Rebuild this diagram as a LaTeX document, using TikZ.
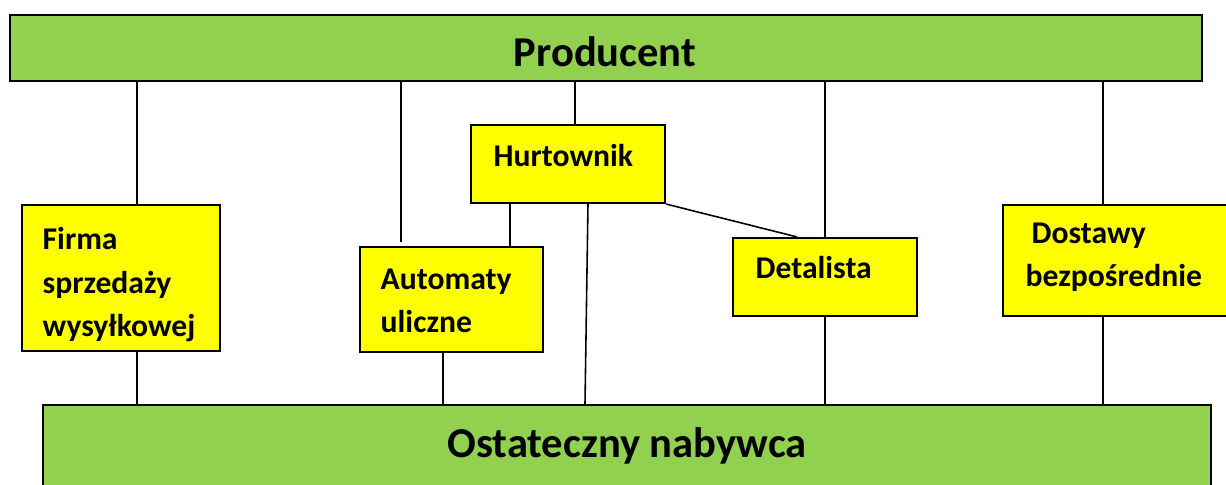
\documentclass[tikz,border=0pt]{standalone}
\usepackage{fontspec}
\setmainfont{Carlito}
\usetikzlibrary{positioning}
\definecolor{grn}{HTML}{92D050}
\definecolor{ylw}{HTML}{FFFF00}

\begin{document}
\begin{tikzpicture}[x=0.01cm, y=-0.01cm,
  box/.style={rectangle, draw, line width=0.6pt, fill=#1, inner sep=0pt},
  box/.default=ylw,
  lbl/.style={anchor=base west, inner sep=0pt, align=left, font=\fontsize{9}{12.5}\selectfont\bfseries},
  big/.style={anchor=base, inner sep=0pt, font=\fontsize{12.1}{14}\selectfont\bfseries},
  conn/.style={line width=0.45pt}]
  \clip (0,0) rectangle (1226,485);
  % levels
  \node[box=grn, minimum width=11.92cm, minimum height=0.66cm] (prod) at (606,48) {};
  \node[box=grn, minimum width=11.68cm, minimum height=1.0cm] (ost) at (627,455) {};
  \node[big] (tprod) at (605,67) {Producent};
  \node[big] (tost) at (627,458) {Ostateczny nabywca};
  % channels
  \node[box, minimum width=1.98cm, minimum height=1.46cm] (firma) at (121,278) {};
  \node[box, minimum width=1.83cm, minimum height=1.05cm] (auto) at (451.5,299.5) {};
  \node[box, minimum width=1.94cm, minimum height=0.78cm] (hurt) at (568,164) {};
  \node[box, minimum width=1.84cm, minimum height=0.78cm] (detal) at (825,277) {};
  \node[box, minimum width=2.36cm, minimum height=1.11cm] (dost) at (1121,260.5) {};
  % multi-line labels sit on their last line
  \node[lbl] (tfirma) at (42,337) {Firma\\sprzedaży\\wysyłkowej};
  \node[lbl] (tauto) at (380,333) {Automaty\\uliczne};
  \node[lbl] (thurt) at (493,167) {Hurtownik};
  \node[lbl] (tdetal) at (755,279) {Detalista};
  \node[lbl] (tdost1) at (1031,244) {Dostawy};
  \node[lbl] (tdost2) at (1025,287) {bezpośrednie};
  % connectors
  \draw[conn] (137,0 |- prod.south) -- (137,0 |- firma.north);
  \draw[conn] (137,0 |- firma.south) -- (137,0 |- ost.north);
  \draw[conn, shorten >=0.04cm] (401,0 |- prod.south) -- (401,0 |- auto.north);
  \draw[conn] (510,0 |- hurt.south) -- (510,0 |- auto.north);
  \draw[conn] (443,0 |- auto.south) -- (443,0 |- ost.north);
  \draw[conn] (575,0 |- prod.south) -- (575,0 |- hurt.north);
  \draw[conn] (588,0 |- hurt.south) -- (585,0 |- ost.north);
  \draw[conn] (hurt.south east) -- (797,0 |- detal.north);
  \draw[conn] (detal |- prod.south) -- (detal.north);
  \draw[conn] (detal.south) -- (detal |- ost.north);
  \draw[conn] (1103,0 |- prod.south) -- (1103,0 |- dost.north);
  \draw[conn] (1103,0 |- dost.south) -- (1103,0 |- ost.north);
\end{tikzpicture}
\end{document}
